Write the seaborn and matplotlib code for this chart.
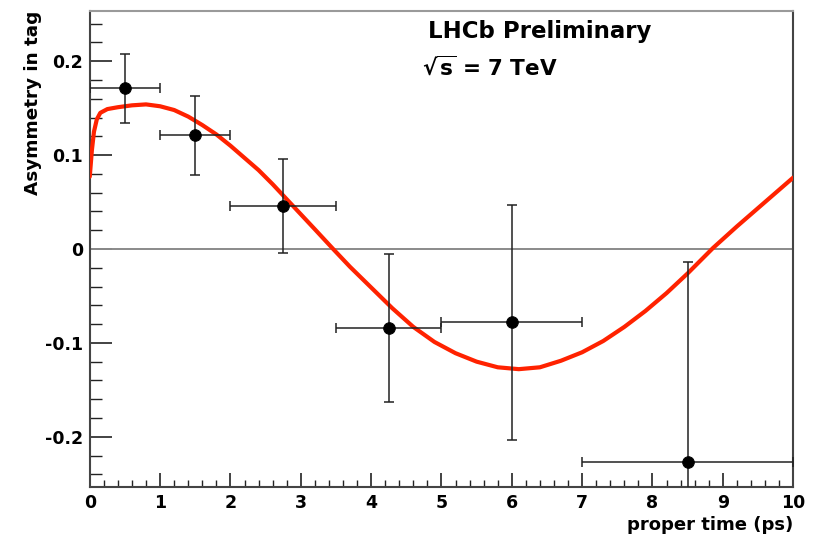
import numpy as np
import pandas as pd
import matplotlib
matplotlib.use("Agg")
import matplotlib.pyplot as plt
import seaborn as sns
from matplotlib.ticker import MultipleLocator, FixedLocator, FixedFormatter

# Data points (binned asymmetry)
t_pts = [0.5, 1.5, 2.75, 4.25, 6.0, 8.5]
bin_lo = [0.0, 1.0, 2.0, 3.5, 5.0, 7.0]
bin_hi = [1.0, 2.0, 3.5, 5.0, 7.0, 10.0]
asym = [0.171, 0.121, 0.046, -0.084, -0.078, -0.227]
asym_err = [0.037, 0.042, 0.050, 0.079, 0.125, 0.213]

# Fit curve
fit_t = [0.0, 0.03, 0.06, 0.1, 0.15, 0.25, 0.4, 0.6, 0.8, 1.0, 1.2, 1.4, 1.6,
         1.8, 2.0, 2.2, 2.4, 2.6, 2.8, 3.0, 3.2, 3.46, 3.7, 4.0, 4.3, 4.6,
         4.9, 5.2, 5.5, 5.8, 6.1, 6.4, 6.7, 7.0, 7.3, 7.6, 7.9, 8.2, 8.5,
         8.86, 9.2, 9.6, 10.0]
fit_a = [0.077, 0.105, 0.125, 0.138, 0.145, 0.149, 0.151, 0.153, 0.154, 0.152,
         0.148, 0.141, 0.132, 0.122, 0.110, 0.097, 0.084, 0.069, 0.053, 0.037,
         0.021, 0.000, -0.019, -0.041, -0.063, -0.083, -0.099, -0.111, -0.120,
         -0.126, -0.128, -0.126, -0.119, -0.110, -0.098, -0.083, -0.066,
         -0.047, -0.026, 0.001, 0.024, 0.050, 0.076]

ytick_vals = [-0.2, -0.1, 0.0, 0.1, 0.2]
ytick_labels = ["-0.2", "-0.1", "0", "0.1", "0.2"]
xtick_vals = list(range(0, 11))

sns.set_style("ticks")
plt.rcParams["font.family"] = ["DejaVu Sans"]
plt.rcParams["font.weight"] = "bold"
plt.rcParams["mathtext.fontset"] = "dejavusans"
plt.rcParams["mathtext.default"] = "bf"
plt.rcParams["text.color"] = "black"

fig = plt.figure(figsize=(8.16, 5.38), dpi=100)
ax = fig.add_axes([0.110, 0.0948, 0.862, 0.8848])

ax.axhline(0, color="#8a8a8a", lw=1.4, zorder=1)

fit_df = pd.DataFrame({"t": fit_t, "a": fit_a})
sns.lineplot(data=fit_df, x="t", y="a", ax=ax, color="#ff2200", lw=3.0,
             zorder=3, estimator=None, sort=False)

t_arr = np.array(t_pts)
xerr = np.array([t_arr - np.array(bin_lo), np.array(bin_hi) - t_arr])
ax.errorbar(t_pts, asym, yerr=asym_err, xerr=xerr, fmt="none",
            ecolor="#222222", elinewidth=1.1, capsize=3.5, capthick=1.1, zorder=4)
pts_df = pd.DataFrame({"t": t_pts, "a": asym})
sns.scatterplot(data=pts_df, x="t", y="a", ax=ax, color="black", s=70,
                edgecolor="black", zorder=5)

ax.set_xlim(0, 10)
ax.set_ylim(-0.2535, 0.2535)
ax.xaxis.set_major_locator(FixedLocator(xtick_vals))
ax.xaxis.set_minor_locator(MultipleLocator(0.2))
ax.yaxis.set_major_locator(FixedLocator(ytick_vals))
ax.yaxis.set_major_formatter(FixedFormatter(ytick_labels))
ax.yaxis.set_minor_locator(MultipleLocator(0.02))

ax.tick_params(axis="both", which="both", direction="in", color="#222222",
               labelcolor="black", labelsize=12.5, top=False, right=False)
ax.tick_params(axis="x", which="major", length=10, width=1.2, pad=5)
ax.tick_params(axis="x", which="minor", length=5, width=1.0)
ax.tick_params(axis="y", which="major", length=16, width=1.2, pad=5)
ax.tick_params(axis="y", which="minor", length=8.5, width=1.0)
for lab in ax.get_xticklabels() + ax.get_yticklabels():
    lab.set_fontweight("bold")

for side in ["left", "bottom", "right"]:
    ax.spines[side].set_color("#444444")
    ax.spines[side].set_linewidth(1.5)
ax.spines["top"].set_color("#9a9a9a")
ax.spines["top"].set_linewidth(1.5)
ax.spines["top"].set_visible(True)
ax.spines["right"].set_visible(True)

ax.set_xlabel("")
ax.set_ylabel("")
fig.text(0.972, 0.024, "proper time (ps)", ha="right", va="center",
         fontsize=13, fontweight="bold", color="black")
fig.text(0.040, 0.808, "Asymmetry in tag", ha="center", va="center",
         rotation=90, fontsize=13.2, fontweight="bold", color="black")

fig.text(0.524, 0.941, "LHCb Preliminary", ha="left", va="center",
         fontsize=16.5, fontweight="bold", color="black")
fig.text(0.517, 0.876, r"$\sqrt{s}$ = 7 TeV", ha="left", va="center",
         fontsize=15.5, fontweight="bold", color="black")

fig.savefig("out.png", dpi=100, facecolor="white")
